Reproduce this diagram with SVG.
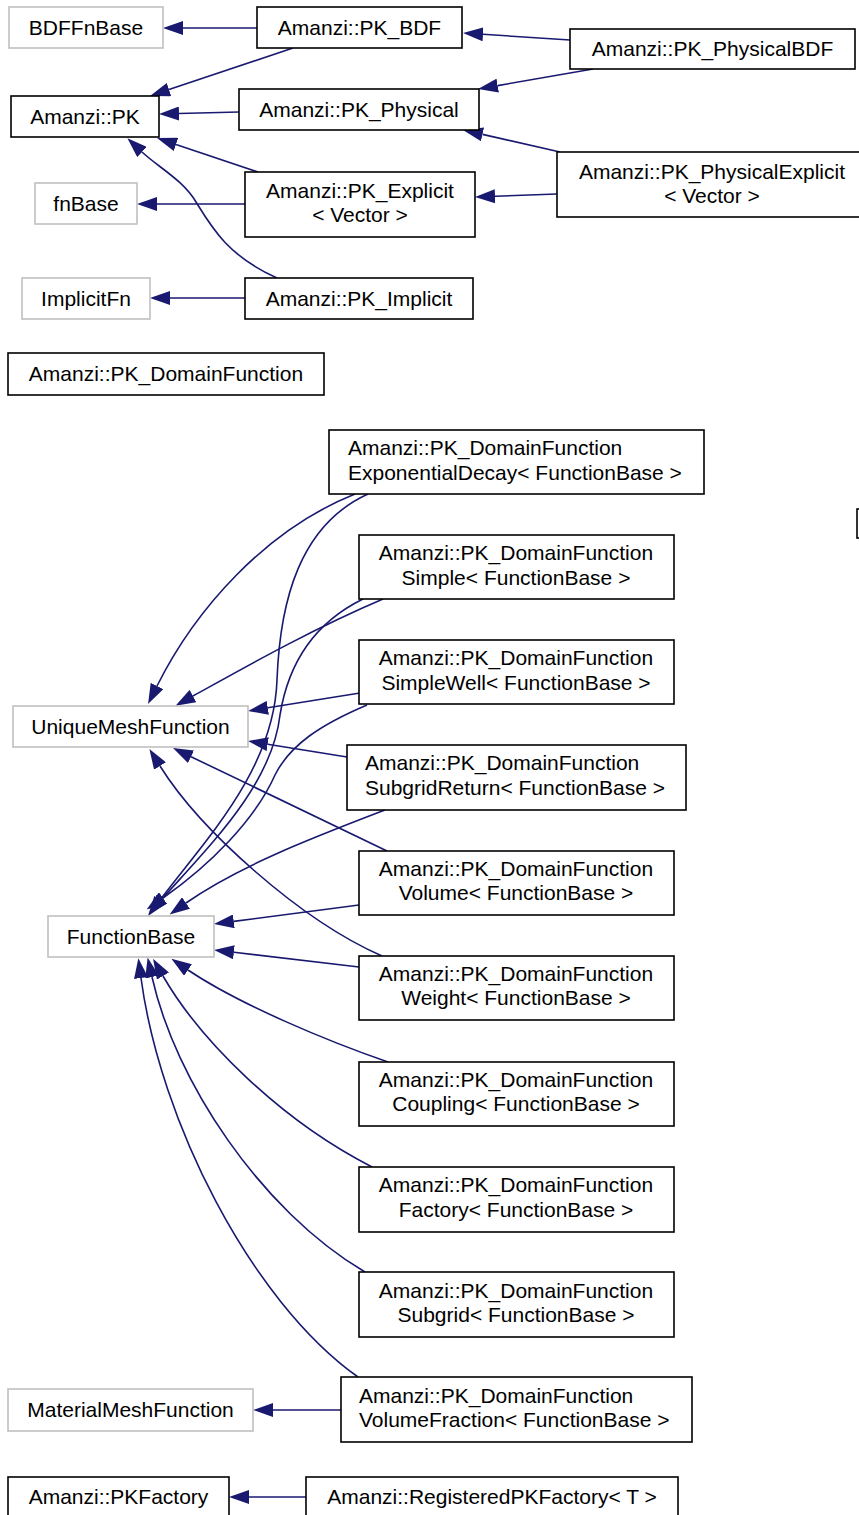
<svg xmlns="http://www.w3.org/2000/svg" width="859" height="1515" viewBox="0 0 859 1515">
<style>
.n{fill:#fff;stroke:#000;stroke-width:1.6}
.g{fill:#fff;stroke:#c0c0c0;stroke-width:1.6}
text{font-family:"Liberation Sans",Arial,sans-serif;font-size:21px;fill:#000}
.c{text-anchor:middle}
.e{fill:none;stroke:#191970;stroke-width:1.6;marker-end:url(#ah)}
</style>
<defs>
<marker id="ah" markerUnits="userSpaceOnUse" markerWidth="20" markerHeight="14" refX="0" refY="7" orient="auto">
<path d="M0,0 L20,7 L0,14 z" fill="#191970"/>
</marker>
</defs>
<rect width="859" height="1515" fill="#fff"/>
<g id="connectors">
<path class="e" d="M257,28 L183,28"/>
<path class="e" d="M293,48 L169,89.6"/>
<path class="e" d="M239,112 L179,113.5"/>
<path class="e" d="M258,172 L176,144.4"/>
<path class="e" d="M277,278 C228,256 212,228 196,202 C183,180 158,167 142,152"/>
<path class="e" d="M245,204 L157,204"/>
<path class="e" d="M245,298 L170,298"/>
<path class="e" d="M570,40 L483,34.3"/>
<path class="e" d="M593,69 L497.7,85.6"/>
<path class="e" d="M560,152 L482.5,134.4"/>
<path class="e" d="M557,194 L495,196.3"/>
<path class="e" d="M355,494 C265,530 195,610 157,686"/>
<path class="e" d="M368,494 C300,525 280,600 277,680 C274,770 205,840 160,900"/>
<path class="e" d="M383,599 C310,630 240,670 193,696"/>
<path class="e" d="M363,599 C312,624 288,665 280,715 C272,785 210,845 162,899"/>
<path class="e" d="M360,693 L267.8,707.8"/>
<path class="e" d="M367,705 C320,725 290,745 275,775 C255,820 210,865 163,898"/>
<path class="e" d="M347,757 L267.7,744.2"/>
<path class="e" d="M385,810 C320,835 240,865 186,903"/>
<path class="e" d="M387,851 L191,756.7"/>
<path class="e" d="M359,905 L233.8,921.4"/>
<path class="e" d="M382,956 C300,920 200,830 160,766"/>
<path class="e" d="M359,967 L233.9,952.3"/>
<path class="e" d="M388,1062 C330,1042 240,1005 188,970"/>
<path class="e" d="M372,1167 C280,1120 200,1040 163,976"/>
<path class="e" d="M365,1272 C260,1210 175,1080 152,977"/>
<path class="e" d="M358,1377 C250,1300 160,1120 141,978"/>
<path class="e" d="M341,1410 L273,1410"/>
<path class="e" d="M306,1497 L249,1497"/>
</g>
<g id="BDFFnBase"><rect class="g" x="9" y="7" width="154" height="41"/><text class="c" x="86" y="35">BDFFnBase</text></g>
<g id="PK_BDF"><rect class="n" x="257" y="7" width="205" height="41"/><text class="c" x="359.5" y="35">Amanzi::PK_BDF</text></g>
<g id="PK"><rect class="n" x="11" y="96" width="148" height="41"/><text class="c" x="85" y="124">Amanzi::PK</text></g>
<g id="PK_Physical"><rect class="n" x="239" y="89" width="240" height="41"/><text class="c" x="359" y="117">Amanzi::PK_Physical</text></g>
<g id="fnBase"><rect class="g" x="35" y="183" width="102" height="41"/><text class="c" x="86" y="211">fnBase</text></g>
<g id="PK_Explicit"><rect class="n" x="245" y="172" width="230" height="65"/><text class="c" x="360" y="198">Amanzi::PK_Explicit</text><text class="c" x="360" y="222">&lt; Vector &gt;</text></g>
<g id="ImplicitFn"><rect class="g" x="22" y="278" width="128" height="41"/><text class="c" x="86" y="306">ImplicitFn</text></g>
<g id="PK_Implicit"><rect class="n" x="245" y="278" width="228" height="41"/><text class="c" x="359" y="306">Amanzi::PK_Implicit</text></g>
<g id="PK_PhysicalBDF"><rect class="n" x="570" y="29" width="285" height="40"/><text class="c" x="712.5" y="56">Amanzi::PK_PhysicalBDF</text></g>
<g id="PK_PhysicalExplicit"><rect class="n" x="557" y="152" width="310" height="65"/><text class="c" x="712" y="179">Amanzi::PK_PhysicalExplicit</text><text class="c" x="712" y="203">&lt; Vector &gt;</text></g>
<g id="PK_DomainFunction"><rect class="n" x="8" y="353" width="316" height="42"/><text class="c" x="166" y="381">Amanzi::PK_DomainFunction</text></g>
<g id="ExponentialDecay"><rect class="n" x="329" y="430" width="375" height="64"/><text x="348" y="455">Amanzi::PK_DomainFunction</text><text x="348" y="480">ExponentialDecay&lt; FunctionBase &gt;</text></g>
<g id="Simple"><rect class="n" x="359" y="535" width="315" height="64"/><text class="c" x="516" y="560">Amanzi::PK_DomainFunction</text><text class="c" x="516" y="585">Simple&lt; FunctionBase &gt;</text></g>
<g id="SimpleWell"><rect class="n" x="359" y="640" width="315" height="64"/><text class="c" x="516" y="665">Amanzi::PK_DomainFunction</text><text class="c" x="516" y="690">SimpleWell&lt; FunctionBase &gt;</text></g>
<g id="SubgridReturn"><rect class="n" x="347" y="745" width="339" height="65"/><text x="365" y="770">Amanzi::PK_DomainFunction</text><text x="365" y="795">SubgridReturn&lt; FunctionBase &gt;</text></g>
<g id="Volume"><rect class="n" x="359" y="851" width="315" height="64"/><text class="c" x="516" y="876">Amanzi::PK_DomainFunction</text><text class="c" x="516" y="900">Volume&lt; FunctionBase &gt;</text></g>
<g id="Weight"><rect class="n" x="359" y="956" width="315" height="64"/><text class="c" x="516" y="981">Amanzi::PK_DomainFunction</text><text class="c" x="516" y="1005">Weight&lt; FunctionBase &gt;</text></g>
<g id="Coupling"><rect class="n" x="359" y="1062" width="315" height="64"/><text class="c" x="516" y="1087">Amanzi::PK_DomainFunction</text><text class="c" x="516" y="1111">Coupling&lt; FunctionBase &gt;</text></g>
<g id="Factory"><rect class="n" x="359" y="1167" width="315" height="65"/><text class="c" x="516" y="1192">Amanzi::PK_DomainFunction</text><text class="c" x="516" y="1217">Factory&lt; FunctionBase &gt;</text></g>
<g id="Subgrid"><rect class="n" x="359" y="1272" width="315" height="65"/><text class="c" x="516" y="1298">Amanzi::PK_DomainFunction</text><text class="c" x="516" y="1322">Subgrid&lt; FunctionBase &gt;</text></g>
<g id="VolumeFraction"><rect class="n" x="341" y="1377" width="351" height="65"/><text x="359" y="1403">Amanzi::PK_DomainFunction</text><text x="359" y="1427">VolumeFraction&lt; FunctionBase &gt;</text></g>
<g id="UniqueMeshFunction"><rect class="g" x="13" y="706" width="235" height="41"/><text class="c" x="130.5" y="734">UniqueMeshFunction</text></g>
<g id="FunctionBase"><rect class="g" x="48" y="916" width="166" height="41"/><text class="c" x="131" y="944">FunctionBase</text></g>
<g id="MaterialMeshFunction"><rect class="g" x="8" y="1389" width="245" height="42"/><text class="c" x="130.5" y="1417">MaterialMeshFunction</text></g>
<g id="PKFactory"><rect class="n" x="8" y="1477" width="221" height="45"/><text class="c" x="118.5" y="1504">Amanzi::PKFactory</text></g>
<g id="RegisteredPKFactory"><rect class="n" x="306" y="1477" width="372" height="45"/><text class="c" x="492" y="1504">Amanzi::RegisteredPKFactory&lt; T &gt;</text></g>
<g id="edge-mark"><rect class="n" x="857" y="509" width="40" height="29"/></g>
</svg>
